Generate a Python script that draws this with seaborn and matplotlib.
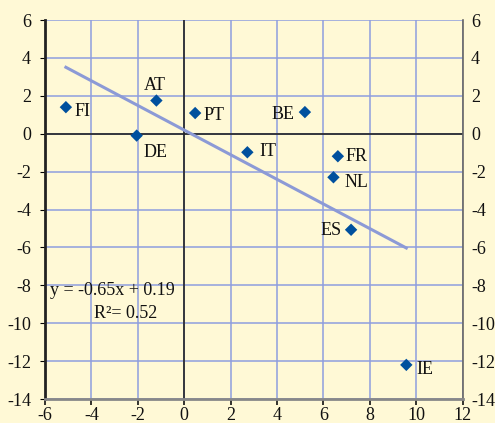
import matplotlib
matplotlib.use("Agg")
import matplotlib.pyplot as plt
import seaborn as sns
import pandas as pd
import numpy as np

countries = ["FI", "DE", "AT", "PT", "IT", "BE", "FR", "NL", "ES", "IE"]
x_vals = [-5.1, -2.05, -1.2, 0.47, 2.72, 5.2, 6.62, 6.43, 7.19, 9.57]
y_vals = [1.4, -0.1, 1.75, 1.09, -0.98, 1.14, -1.19, -2.3, -5.07, -12.2]
slope = -0.65
intercept = 0.19
r2 = 0.52
x_ticks = list(range(-6, 13, 2))
y_ticks = list(range(-14, 7, 2))

df = pd.DataFrame({"country": countries, "x": x_vals, "y": y_vals})
xs = np.array([min(x_vals), max(x_vals)])
trend = pd.DataFrame({"x": xs, "y": slope * xs + intercept})

bg = "#FFF9D6"
fs = 13
plt.rcParams["font.family"] = ["Liberation Serif", "DejaVu Serif"]
fig = plt.figure(figsize=(4.95, 4.23), dpi=100, facecolor=bg)
ax = fig.add_axes([45/495, 1-399/423, (462.7-45)/495, (399-20)/423])
ax.set_facecolor(bg)

ax.set_xlim(-6, 12)
ax.set_ylim(-14, 6)
ax.set_xticks(x_ticks)
ax.set_yticks(y_ticks)
ax.grid(True, color="#8E9EDF", linewidth=1.1, zorder=0)
ax.set_axisbelow(True)
ax.axhline(0, color="#222222", linewidth=1.2, zorder=1)
ax.axvline(0, color="#222222", linewidth=1.2, zorder=1)

sns.lineplot(data=trend, x="x", y="y", ax=ax, color="#8C9AD6", linewidth=2.2, zorder=2)
sns.scatterplot(data=df, x="x", y="y", ax=ax, marker="D", color="#00509E",
                s=40, edgecolor="none", zorder=3)

offsets = {
    "FI": (9, -4, "left"), "DE": (7, -17, "left"), "AT": (-1.5, 15, "center"),
    "PT": (8, -2, "left"), "IT": (12, 1, "left"), "BE": (-10, -2, "right"),
    "FR": (8, 0, "left"), "NL": (11, -5, "left"), "ES": (-9, -1, "right"),
    "IE": (10, -5, "left"),
}
for c, xv, yv in zip(countries, x_vals, y_vals):
    dx, dy, ha = offsets[c]
    ax.annotate(c, (xv, yv), xytext=(dx, dy), textcoords="offset pixels",
                ha=ha, va="center", fontsize=fs, color="#111111", zorder=4)

ax.text(-5.78, -8.3, f"y = {slope:.2f}x + {intercept:.2f}", ha="left", va="center",
        fontsize=fs, color="#111111")
ax.text(-3.89, -9.5, f"R\u00b2= {r2:.2f}", ha="left", va="center",
        fontsize=fs, color="#111111")

ax.set_xlabel("")
ax.set_ylabel("")
ax.spines["top"].set_visible(False)
ax.spines["left"].set_color("#222222")
ax.spines["left"].set_linewidth(2)
ax.spines["right"].set_color("#666666")
ax.spines["right"].set_linewidth(1.2)
ax.spines["bottom"].set_color("#888888")
ax.spines["bottom"].set_linewidth(2)

ax.tick_params(axis="y", left=False, right=False, labelleft=True, labelright=False,
               labelsize=fs, labelcolor="#111111", pad=6.5)
ax.tick_params(axis="x", direction="out", length=4, width=1.2, color="#111111",
               labelsize=fs, pad=2, labelcolor="#111111")
ax.set_yticklabels([str(v) for v in y_ticks])
ax.set_xticklabels([str(v) for v in x_ticks])

ax2 = ax.twinx()
ax2.set_ylim(ax.get_ylim())
ax2.set_yticks(y_ticks)
ax2.set_yticklabels([str(v) for v in y_ticks])
ax2.tick_params(axis="y", right=False, labelright=True, labelsize=fs,
                labelcolor="#111111", pad=2.5)
for s in ["top", "left", "bottom", "right"]:
    ax2.spines[s].set_visible(False)

if ax.get_legend():
    ax.get_legend().remove()

fig.savefig("out.png", dpi=100, facecolor=bg)
